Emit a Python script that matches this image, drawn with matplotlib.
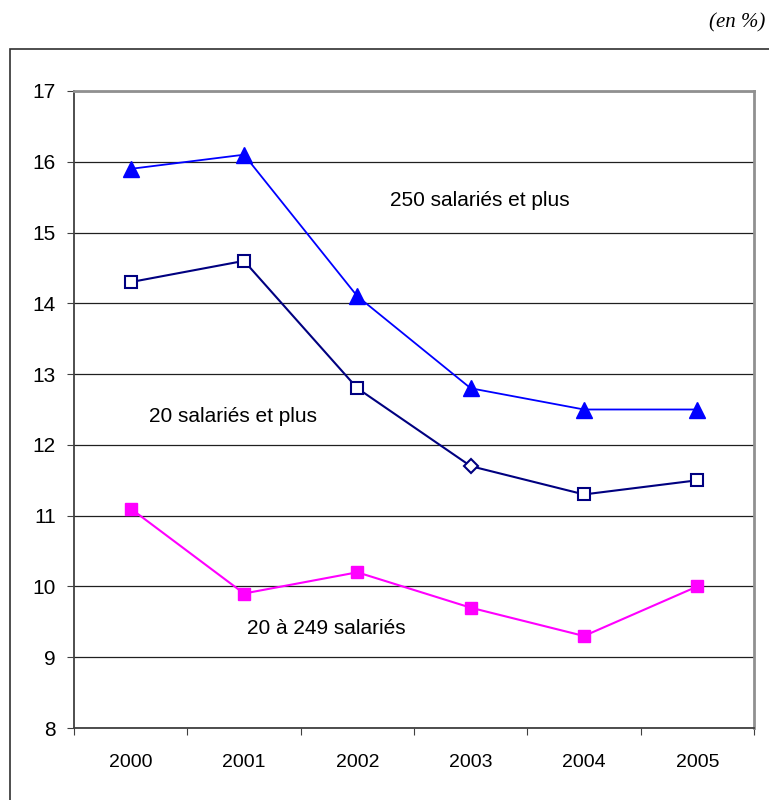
import matplotlib
matplotlib.use("Agg")
import matplotlib.pyplot as plt
from matplotlib.patches import Rectangle

plt.rcParams['font.family'] = ['Liberation Sans', 'DejaVu Sans']

years = ['2000', '2001', '2002', '2003', '2004', '2005']
grandes = [15.9, 16.1, 14.1, 12.8, 12.5, 12.5]      # 250 salariés et plus
ensemble = [14.3, 14.6, 12.8, 11.7, 11.3, 11.5]     # 20 salariés et plus
moyennes = [11.1, 9.9, 10.2, 9.7, 9.3, 10.0]        # 20 à 249 salariés

fig = plt.figure(figsize=(7.69, 8.0), dpi=100)
ax = fig.add_axes([74/769, 1 - 728/800, (754 - 74)/769, (728 - 91)/800])

# cadre extérieur
fig.patches.append(Rectangle((9.5/769, -0.05), 1.0, 1 - 49/800 + 0.05,
                             transform=fig.transFigure, fill=False,
                             edgecolor='#303030', linewidth=1.2))

x = list(range(len(years)))
ax.plot(x, grandes, color='#0000ff', lw=1.3, marker='^', ms=11,
        mfc='#0000ff', mec='#0000ff', zorder=3)
# 20 salariés et plus : carrés, sauf 2003 en losange
ax.plot(x, ensemble, color='#000080', lw=1.5, zorder=3)
sq = [i for i in x if i != 3]
ax.plot([x[i] for i in sq], [ensemble[i] for i in sq], ls='none', marker='s', ms=8,
        mfc='white', mec='#000080', mew=1.5, zorder=4)
ax.plot([x[3]], [ensemble[3]], ls='none', marker='D', ms=7.5,
        mfc='white', mec='#000080', mew=1.5, zorder=4)
ax.plot(x, moyennes, color='#ff00ff', lw=1.5, marker='s', ms=9,
        mfc='#ff00ff', mec='#ff00ff', zorder=3)

ax.set_xlim(-0.5, 5.5)
ax.set_ylim(8, 17)
ax.set_yticks(range(8, 18))
ax.set_xticks([i - 0.5 for i in range(7)])
ax.set_xticklabels([])
ax.set_xticks(x, minor=True)
ax.set_xticklabels(years, minor=True)
ax.tick_params(axis='x', which='major', length=5, direction='out', color='#404040')
ax.tick_params(axis='x', which='minor', length=0, pad=19, labelsize=14)
ax.tick_params(axis='y', length=5, direction='out', color='#404040', pad=8, labelsize=15)

ax.yaxis.grid(True, color='#202020', lw=0.9)
ax.set_axisbelow(True)
for s in ['left', 'bottom']:
    ax.spines[s].set_color('#404040')
    ax.spines[s].set_linewidth(1.3)
ax.spines['right'].set_color('#909090')
ax.spines['right'].set_linewidth(2)
ax.spines['top'].set_color('#909090')
ax.spines['top'].set_linewidth(2)

ax.text(3.08, 15.45, '250 salariés et plus', fontsize=15, ha='center', va='center')
ax.text(0.90, 12.4, '20 salariés et plus', fontsize=15, ha='center', va='center')
ax.text(1.73, 9.4, '20 à 249 salariés', fontsize=15, ha='center', va='center')

fig.text(765/769, 1 - 23/800, '(en %)', family=['Liberation Serif', 'DejaVu Serif'],
         style='italic', fontsize=15, ha='right', va='center')

fig.savefig('out.png', dpi=100)
